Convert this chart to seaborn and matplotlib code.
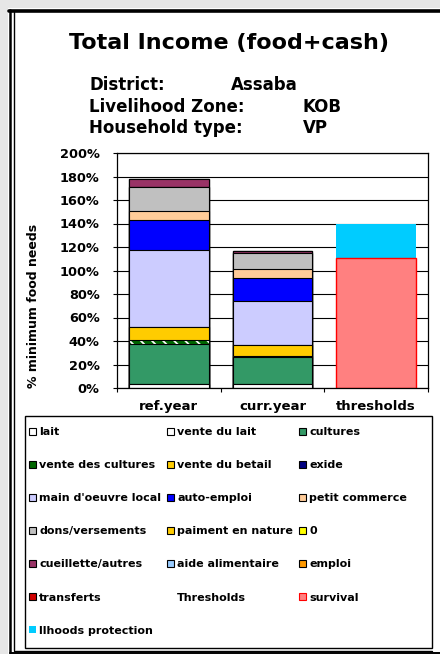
import matplotlib
matplotlib.use("Agg")
import matplotlib.pyplot as plt
from matplotlib.patches import Patch, Rectangle
from matplotlib.lines import Line2D
import seaborn as sns
import numpy as np

# ---------------- data ----------------
categories = ["ref.year", "curr.year", "thresholds"]
income_cats = ["ref.year", "curr.year"]

lait = [3.0, 3.0]
vente_du_lait = [0.0, 0.0]
cultures = [34.3, 23.8]
vente_des_cultures = [3.4, 0.8]
vente_du_betail = [11.5, 9.1]
exide = [0.0, 0.0]
main_d_oeuvre_local = [65.2, 37.7]
auto_emploi = [25.5, 19.0]
petit_commerce = [8.0, 8.0]
dons_versements = [19.9, 13.3]
paiment_en_nature = [0.0, 0.0]
zero_series = [0.0, 0.0]
cueillette_autres = [6.8, 2.3]
aide_alimentaire = [0.0, 0.0]
emploi = [0.0, 0.0]
transferts = [0.0, 0.0]

threshold_cat = ["thresholds"]
survival = [111.0]
lhoods_protection = [29.0]

yticks = [0, 20, 40, 60, 80, 100, 120, 140, 160, 180, 200]

# ---------------- style ----------------
sns.set_theme(style="white")
plt.rcParams["font.family"] = ["DejaVu Sans"]
plt.rcParams["text.color"] = "black"
plt.rcParams["axes.labelcolor"] = "black"
plt.rcParams["xtick.color"] = "black"
plt.rcParams["ytick.color"] = "black"
plt.rcParams["hatch.color"] = "white"
plt.rcParams["hatch.linewidth"] = 1.3

W, H = 440, 654
fig = plt.figure(figsize=(W / 100, H / 100), dpi=100)
fig.patch.set_facecolor("white")

def fx(px):
    return px / W

def fy(py):
    return 1 - py / H

# background strips and double border (Excel chart frame)
fig.patches.append(Rectangle((0, fy(8)), 1, 8 / H, transform=fig.transFigure,
                             facecolor="#E6E6E6", edgecolor="none", zorder=0))
fig.patches.append(Rectangle((0, 0), fx(8), 1, transform=fig.transFigure,
                             facecolor="#E6E6E6", edgecolor="none", zorder=0))
fig.lines.append(Line2D([fx(9), 1], [fy(10.5), fy(10.5)], transform=fig.transFigure,
                        color="black", lw=2.6))
fig.lines.append(Line2D([fx(10), fx(10)], [fy(10), fy(653)], transform=fig.transFigure,
                        color="black", lw=1.8))
fig.lines.append(Line2D([fx(14), fx(14)], [fy(12), fy(650)], transform=fig.transFigure,
                        color="black", lw=1.0))
fig.lines.append(Line2D([fx(10), 1], [fy(653), fy(653)], transform=fig.transFigure,
                        color="black", lw=1.4))
fig.lines.append(Line2D([fx(14), fx(432)], [fy(650.5), fy(650.5)], transform=fig.transFigure,
                        color="black", lw=1.0))
# legend frame
fig.patches.append(Rectangle((fx(25), fy(648)), fx(432) - fx(25), fy(416) - fy(648),
                             transform=fig.transFigure, facecolor="none",
                             edgecolor="black", lw=1.0))

# titles
fig.text(fx(228.5), fy(48.5), "Total Income (food+cash)", ha="center", va="baseline",
         fontsize=16, fontweight="bold", color="black")
rows = [("District:", "Assaba", 231, 89.5),
        ("Livelihood Zone:", "KOB", 303, 111.5),
        ("Household type:", "VP", 303, 133)]
for lab, val, vx, by in rows:
    fig.text(fx(89), fy(by), lab, ha="left", va="baseline", fontsize=12,
             fontweight="bold", color="black")
    fig.text(fx(vx), fy(by), val, ha="left", va="baseline", fontsize=12,
             fontweight="bold", color="black")

# ---------------- axes ----------------
ax = fig.add_axes([fx(117), fy(388), (428 - 117) / W, (388 - 153) / H])
ax.set_facecolor("white")

series = [
    ("lait", lait, "#FFFFFF", None),
    ("vente du lait", vente_du_lait, "#FFFFFF", None),
    ("cultures", cultures, "#339966", None),
    ("vente des cultures", vente_des_cultures, "#006600", "\\\\\\"),
    ("vente du betail", vente_du_betail, "#FFCC00", None),
    ("exide", exide, "#000080", None),
    ("main d'oeuvre local", main_d_oeuvre_local, "#CCCCFF", None),
    ("auto-emploi", auto_emploi, "#0000FF", None),
    ("petit commerce", petit_commerce, "#FFCC99", None),
    ("dons/versements", dons_versements, "#C0C0C0", None),
    ("paiment en nature", paiment_en_nature, "#FFFF00", None),
    ("0", zero_series, "#FFFF00", None),
    ("cueillette/autres", cueillette_autres, "#993366", None),
    ("aide alimentaire", aide_alimentaire, "#99CCFF", None),
    ("emploi", emploi, "#FF9900", None),
    ("transferts", transferts, "#D00000", None),
]

cum = np.cumsum(np.array([s[1] for s in series]), axis=0)
BW = 0.77
# draw cumulative layers from the top of the stack downwards
for i in range(len(series) - 1, -1, -1):
    name, vals, col, hatch = series[i]
    if hatch:
        sns.barplot(x=income_cats, y=list(cum[i]), order=categories, color=col,
                    edgecolor="white", linewidth=0, width=BW, saturation=1,
                    errorbar=None, hatch=hatch, ax=ax, zorder=2)
        sns.barplot(x=income_cats, y=list(cum[i]), order=categories, color="black",
                    fill=False, linewidth=0.8, width=BW, saturation=1,
                    errorbar=None, ax=ax, zorder=2)
    else:
        sns.barplot(x=income_cats, y=list(cum[i]), order=categories, color=col,
                    edgecolor="black", linewidth=0.8, width=BW, saturation=1,
                    errorbar=None, ax=ax, zorder=2)

thr_top = [survival[0] + lhoods_protection[0]]
sns.barplot(x=threshold_cat, y=thr_top, order=categories, color="#00CCFF",
            edgecolor="none", linewidth=0, width=BW, saturation=1, errorbar=None,
            ax=ax, zorder=2)
sns.barplot(x=threshold_cat, y=survival, order=categories, color="#FF8080",
            edgecolor="#FF0000", linewidth=1.0, width=BW, saturation=1, errorbar=None,
            ax=ax, zorder=2)

ax.set_xlim(-0.5, 2.5)
ax.set_ylim(0, 200)
ax.set_yticks(yticks)
ax.set_yticklabels([f"{v}%" for v in yticks])
ax.set_xticks(range(len(categories)))
ax.set_xticklabels(categories)
ax.set_xticks([-0.5, 0.5, 1.5, 2.5], minor=True)
ax.tick_params(axis="x", which="major", length=0, pad=8.5, labelsize=9.5,
               labelcolor="black")
ax.tick_params(axis="x", which="minor", length=3, width=0.8, direction="out",
               color="black", bottom=True)
ax.tick_params(axis="y", which="major", length=3, width=0.8, direction="out",
               color="black", left=True, pad=9.5, labelsize=9.3, labelcolor="black")
for lab in ax.get_xticklabels() + ax.get_yticklabels():
    lab.set_fontweight("bold")
ax.set_axisbelow(True)
ax.yaxis.grid(True, color="black", lw=0.8)
ax.xaxis.grid(False)
for sp in ax.spines.values():
    sp.set_visible(True)
    sp.set_color("black")
    sp.set_linewidth(0.9)
ax.set_xlabel("")
ax.set_ylabel("")
fig.text(fx(34), fy(305.5), "% minimum food needs", rotation=90, ha="center",
         va="center", fontsize=9, fontweight="bold", color="black")

# ---------------- legend ----------------
def P(fc, ec="black", hatch=None, lw=0.8):
    return Patch(facecolor=fc, edgecolor=ec, hatch=hatch, linewidth=lw)

entries = [
    ("lait", P("#FFFFFF")),
    ("vente du lait", P("#FFFFFF")),
    ("cultures", P("#339966")),
    ("vente des cultures", P("#006600")),
    ("vente du betail", P("#FFCC00")),
    ("exide", P("#000080")),
    ("main d'oeuvre local", P("#CCCCFF")),
    ("auto-emploi", P("#0000FF")),
    ("petit commerce", P("#FFCC99")),
    ("dons/versements", P("#C0C0C0")),
    ("paiment en nature", P("#FFCC00")),
    ("0", P("#FFFF00")),
    ("cueillette/autres", P("#993366")),
    ("aide alimentaire", P("#99CCFF")),
    ("emploi", P("#FF9900")),
    ("transferts", P("#D00000")),
    ("Thresholds", Patch(facecolor="none", edgecolor="none")),
    ("survival", P("#FF8080", ec="#FF0000")),
    ("llhoods protection", P("#00CCFF", ec="none")),
]
ncol = 3
nrow = int(np.ceil(len(entries) / ncol))
# reorder row-major -> column-major for matplotlib
order = []
for c in range(ncol):
    for r in range(nrow):
        k = r * ncol + c
        if k < len(entries):
            order.append(entries[k])
labels = [e[0] for e in order]
handles = [e[1] for e in order]

top_y = fy(427)
leg = fig.legend(handles, labels, loc="upper left", ncol=ncol, mode="expand",
                 bbox_to_anchor=(fx(29), 0.0, fx(407) - fx(29), top_y),
                 bbox_transform=fig.transFigure, frameon=False, borderpad=0,
                 borderaxespad=0, handlelength=0.6, handleheight=0.6,
                 handletextpad=0.3, labelspacing=2.08, columnspacing=0.8,
                 prop={"weight": "bold", "size": 8})
for t in leg.get_texts():
    t.set_color("black")

fig.savefig("out.png", dpi=100, facecolor="white")
